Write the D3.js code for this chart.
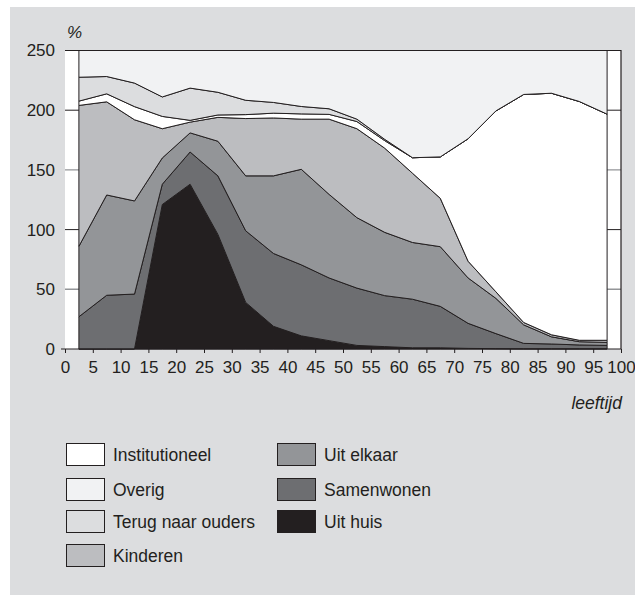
<!DOCTYPE html>
<html>
<head>
<meta charset="utf-8">
<script src="https://cdn.jsdelivr.net/npm/d3@7"></script>
<style>
body{margin:0;background:#fff;}
text{font-family:"Liberation Sans", Arial, sans-serif;fill:#231f20;}
</style>
</head>
<body>
<div id="chart"></div>
<script>
var w = 635;
var h = 595;

// leeftijdsklassen (midden van 5-jaarsklasse)
var ages = [2.5, 7.5, 12.5, 17.5, 22.5, 27.5, 32.5, 37.5, 42.5, 47.5, 52.5, 57.5, 62.5, 67.5, 72.5, 77.5, 82.5, 87.5, 92.5, 97.5];

var uitHuis        = [0, 0, 0, 121, 138, 96, 39, 19, 11, 7, 3, 2, 1, 1, 0.5, 0.3, 0.2, 0.2, 0.2, 0.2];
var samenwonen     = [27, 45, 46, 17, 27, 49, 60, 61, 59.5, 52.5, 48, 42.7, 40.7, 34.7, 21, 12.6, 4.5, 4, 3.2, 2.8];
var uitElkaar      = [59, 84, 78, 22, 16, 29, 46, 65, 80, 70, 59, 53, 47.5, 50, 38, 29.5, 15.5, 6, 2.7, 2.5];
var kinderen       = [118, 78, 68, 24.5, 9, 20, 48, 48.5, 42, 63, 74.5, 70.5, 58, 40.5, 14, 5.5, 2, 1.7, 1.2, 1.8];
var institutioneel = [3.6, 6.7, 11, 10.3, 1.5, 2, 3.3, 4, 4.4, 4, 6, 6.3, 13, 34.7, 102.6, 151.5, 191, 202.3, 200, 189.4];
var terug          = [20, 14.5, 19.7, 16.3, 27, 19, 12, 9, 6.2, 4.7, 2, 1.1, 0, 0, 0, 0, 0, 0, 0, 0];
var overig         = [23, 21.5, 27, 39, 32, 36, 42, 43.5, 48, 50, 57, 74.5, 89.6, 89.6, 74, 50.5, 37, 36, 42.7, 53.3];

var xTicks = [0, 5, 10, 15, 20, 25, 30, 35, 40, 45, 50, 55, 60, 65, 70, 75, 80, 85, 90, 95, 100];
var yTicks = [0, 50, 100, 150, 200, 250];

// volgorde van onder naar boven
var keys = ["Uit huis", "Samenwonen", "Uit elkaar", "Kinderen", "Institutioneel", "Terug naar ouders", "Overig"];
var series = [uitHuis, samenwonen, uitElkaar, kinderen, institutioneel, terug, overig];
var colors = {
	"Uit huis": "#231f20",
	"Samenwonen": "#6d6e71",
	"Uit elkaar": "#939598",
	"Kinderen": "#bcbdc0",
	"Institutioneel": "#ffffff",
	"Terug naar ouders": "#dcdddf",
	"Overig": "#f1f2f3"
};
// legenda: twee kolommen
var legendCol1 = ["Institutioneel", "Overig", "Terug naar ouders", "Kinderen"];
var legendCol2 = ["Uit elkaar", "Samenwonen", "Uit huis"];

var table = ages.map(function(a, i){
	var row = {age: a};
	keys.forEach(function(k, j){ row[k] = series[j][i]; });
	return row;
});

var x0 = 65, x1 = 621, y0 = 349, y1 = 50.5;

var xscale = d3.scaleLinear().domain([0, 100]).range([x0, x1]);
var yscale = d3.scaleLinear().domain([0, 250]).range([y0, y1]).clamp(true);

var stack = d3.stack().keys(keys);
var layers = stack(table);
var topKey = keys[keys.length - 1];

var svg = d3.select("#chart")
	.append("svg")
	.attr("width", w)
	.attr("height", h);

// grijs paneel
svg.append("rect")
	.attr("x", 10).attr("y", 7)
	.attr("width", w - 10).attr("height", h - 7)
	.style("fill", "#dcdddf");

// wit plotvlak
svg.append("rect")
	.attr("x", x0).attr("y", y1)
	.attr("width", x1 - x0).attr("height", y0 - y1)
	.style("fill", "#ffffff");

// hulplijnen
svg.selectAll(".grid")
	.data(yTicks.filter(function(d){ return d > 0 && d < 250; }))
	.enter().append("line")
		.attr("x1", x0).attr("x2", x1)
		.attr("y1", function(d){ return yscale(d); })
		.attr("y2", function(d){ return yscale(d); })
		.style("stroke", function(d){ return d % 100 == 0 ? "#231f20" : "#939598"; })
		.style("stroke-width", function(d){ return d % 100 == 0 ? 1 : 1.4; });

// bovenste laag loopt door tot de rand van het plotvlak
function areaFor(layer){
	return d3.area()
		.x(function(d){ return xscale(d.data.age); })
		.y0(function(d){ return yscale(d[0]); })
		.y1(function(d){ return layer.key == topKey ? yscale.range()[1] : yscale(d[1]); })(layer);
}

svg.append("g")
	.selectAll("path")
	.data(layers)
	.enter().append("path")
		.attr("d", areaFor)
		.style("fill", function(d){ return colors[d.key]; })
		.style("stroke", "#231f20")
		.style("stroke-width", 1)
		.style("stroke-linejoin", "round");

// kader boven en rechts
svg.append("path")
	.attr("d", "M" + x0 + "," + y1 + "H" + x1 + "V" + y0)
	.style("fill", "none")
	.style("stroke", "#231f20")
	.style("stroke-width", 1.2);

// x-as
var xAxis = d3.axisBottom(xscale)
	.tickValues(xTicks)
	.tickSize(4)
	.tickPadding(8)
	.tickFormat(d3.format("d"));

var gx = svg.append("g")
	.attr("transform", "translate(0," + y0 + ")")
	.call(xAxis);
gx.select(".domain").attr("d", "M" + (x0 - 4) + ",0H" + x1).style("stroke", "#231f20");
gx.selectAll(".tick line").style("stroke", "#231f20");
gx.selectAll("text").style("font-size", "17px").style("fill", "#231f20").style("font-family", "Liberation Sans, Arial, sans-serif");

// y-as labels
var yAxis = d3.axisLeft(yscale)
	.tickValues(yTicks)
	.tickSize(0)
	.tickPadding(10);

var gy = svg.append("g")
	.attr("transform", "translate(" + x0 + ",0)")
	.call(yAxis);
gy.select(".domain").remove();
gy.selectAll("text").style("font-size", "17px").style("fill", "#231f20").style("font-family", "Liberation Sans, Arial, sans-serif");

svg.append("text")
	.attr("x", 67).attr("y", 38)
	.style("font-size", "17px")
	.style("font-style", "italic")
	.text("%");

svg.append("text")
	.attr("x", 622).attr("y", 409)
	.attr("text-anchor", "end")
	.style("font-size", "17.5px")
	.style("font-style", "italic")
	.text("leeftijd");

// legenda
var rowY = [443, 478, 510, 544];

function legend(items, lx){
	var g = svg.append("g").selectAll("g")
		.data(items)
		.enter().append("g")
		.attr("transform", function(d, i){ return "translate(" + lx + "," + rowY[i] + ")"; });
	g.append("rect")
		.attr("x", 0.5).attr("y", 0.5)
		.attr("width", 38).attr("height", 22)
		.style("fill", function(d){ return colors[d]; })
		.style("stroke", "#231f20")
		.style("stroke-width", 1);
	g.append("text")
		.attr("x", 47).attr("y", 17.5)
		.style("font-size", "17.5px")
		.text(function(d){ return d; });
}
legend(legendCol1, 66);
legend(legendCol2, 277);
</script>
</body>
</html>
